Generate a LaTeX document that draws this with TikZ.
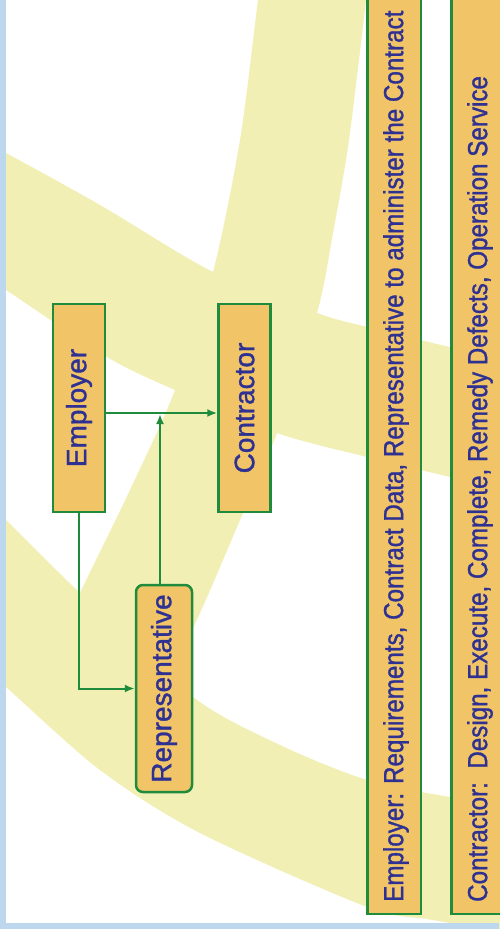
\documentclass[tikz,border=0pt]{standalone}
\usepackage{fontspec}
\setmainfont{Liberation Sans}
\newfontfamily\partyfont{Liberation Sans}[FakeBold=1.2]
\newfontfamily\notefont{Liberation Sans}[FakeStretch=0.88,FakeBold=1.2]
\usetikzlibrary{arrows.meta,positioning}
\definecolor{boxfill}{RGB}{241,196,104}
\definecolor{boxline}{RGB}{30,140,60}
\definecolor{textblue}{RGB}{46,49,146}
\definecolor{bandyellow}{RGB}{241,239,179}
\definecolor{frameblue}{RGB}{189,215,238}
\begin{document}
\begin{tikzpicture}[x=1pt,y=-1pt,
    party/.style={draw=boxline, line width=2.5pt, fill=boxfill, text=textblue,
      font=\partyfont\fontsize{28}{30}\selectfont, minimum width=52pt, minimum height=208pt, inner sep=0pt},
    notebox/.style={draw=boxline, line width=2.5pt, fill=boxfill,
      minimum width=53.5pt, minimum height=950pt, inner sep=0pt},
    notetext/.style={text=textblue, font=\notefont\fontsize{27.5}{30}\selectfont, inner sep=0pt},
    link/.style={draw=boxline, line width=2pt, -{Latex[length=10pt,width=8pt]}},
    band/.style={fill=bandyellow}]

  \useasboundingbox (0,0) rectangle (499,929);
  \fill[white] (0,0) rectangle (499,929);

  \fill[band] plot[smooth] coordinates {(262,-20) (258,0) (240,140) (213,272) (175,390) (130,490) (80,593) (40,680)}
    -- plot[smooth] coordinates {(150,720) (200,613) (240,520) (277,433) (317,313) (333,233) (349,140) (366,0) (368,-20)} -- cycle;
  \fill[band] plot[smooth] coordinates {(-20,140) (6,153) (100,205) (213,272) (317,313) (367,327) (450,347) (520,362)}
    -- plot[smooth] coordinates {(520,494) (450,477) (367,457) (277,433) (175,390) (107,357) (6,290) (-20,275)} -- cycle;
  \fill[band] plot[smooth] coordinates {(-20,495) (6,520) (80,593) (193,697) (280,745) (367,780) (450,797) (520,806)}
    -- plot[smooth] coordinates {(520,935) (433,920) (367,907) (200,833) (100,770) (6,687) (-20,665)} -- cycle;

  \fill[frameblue] (0,0) rectangle (6,929);
  \fill[frameblue] (0,923) rectangle (499,929);

  \node (employer) [party] at (79,408) {\rotatebox{90}{Employer}};
  \node (contractor) [party] at (244.5,408) {\rotatebox{90}{Contractor}};
  \node (rep) [party, rounded corners=7pt, minimum width=56pt, minimum height=207pt]
    at (164,688.5) {\rotatebox{90}{Representative}};

  \node (empnote) [notebox, anchor=south] at (394,915) {};
  \node (empnotetext) [notetext, above=13pt of empnote.south, xshift=2pt]
    {\rotatebox{90}{Employer: Requirements, Contract Data, Representative to administer the Contract}};
  \node (connote) [notebox, anchor=south] at (478,915) {};
  \node (connotetext) [notetext, above=13pt of connote.south, xshift=2pt]
    {\rotatebox{90}{Contractor:~~Design, Execute, Complete, Remedy Defects, Operation Service}};

  \coordinate (meet) at (160,414);
  \draw[link] ([yshift=-5pt]employer.east) -- ([yshift=-5pt]contractor.west);
  \draw[link] (rep.north -| meet) -- (meet);
  \draw[link] (employer.south) |- (rep.west);
\end{tikzpicture}
\end{document}
